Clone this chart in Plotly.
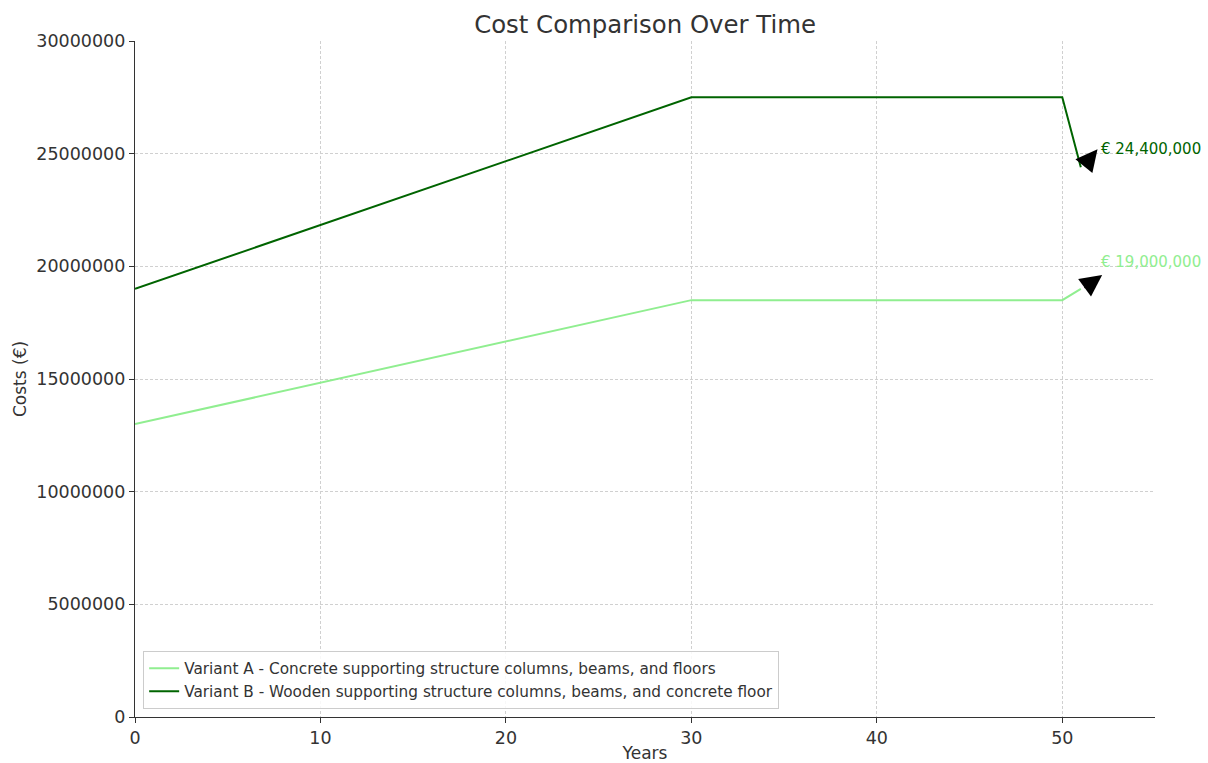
import plotly.graph_objects as go

years = [0, 30, 50, 51]
variant_a = [13000000, 18500000, 18500000, 19000000]
variant_b = [19000000, 27500000, 27500000, 24400000]
name_a = "Variant A - Concrete supporting structure columns, beams, and floors"
name_b = "Variant B - Wooden supporting structure columns, beams, and concrete floor"
label_a = "€ 19,000,000"
label_b = "€ 24,400,000"
color_a = "#90EE90"
color_b = "#006400"

x_ticks = [0, 10, 20, 30, 40, 50]
y_ticks = [0, 5000000, 10000000, 15000000, 20000000, 25000000, 30000000]

FONT = "DejaVu Sans"
TXT = "#333333"

fig = go.Figure()
fig.add_trace(go.Scatter(x=years, y=variant_a, mode="lines", name=name_a,
                         line=dict(color=color_a, width=2)))
fig.add_trace(go.Scatter(x=years, y=variant_b, mode="lines", name=name_b,
                         line=dict(color=color_b, width=2)))

# annotations: arrows and value labels
for val, lab, col, dy_txt, tip_dx, tip_dy in [
    (variant_b[-1], label_b, color_b, 800000, 0.9, 800000),
    (variant_a[-1], label_a, color_a, 1200000, 1.15, 620000),
]:
    x_end = years[-1]
    fig.add_annotation(x=x_end + tip_dx, y=val + tip_dy, ax=x_end + 0.12, ay=val,
                       xref="x", yref="y", axref="x", ayref="y",
                       text="", showarrow=True, arrowhead=2, arrowsize=2.9,
                       arrowwidth=1.5, arrowcolor="black", standoff=0, startstandoff=0)
    fig.add_annotation(x=x_end + 1.0, y=val + dy_txt, xref="x", yref="y",
                       text=lab, showarrow=False, xanchor="left", yanchor="middle",
                       font=dict(family=FONT, size=15, color=col))

fig.update_layout(
    width=1208, height=763,
    margin=dict(l=135, r=53, t=41, b=46),
    paper_bgcolor="white", plot_bgcolor="white",
    font=dict(family=FONT, color=TXT),
    title=dict(text="Cost Comparison Over Time", x=0.534, xanchor="center",
               y=1 - 24 / 763, yanchor="middle", yref="container",
               font=dict(family=FONT, size=24.4, color=TXT)),
    legend=dict(x=0.008, y=0.012, xanchor="left", yanchor="bottom",
                bgcolor="rgba(255,255,255,0.85)", bordercolor="#cccccc", borderwidth=1,
                tracegroupgap=0,
                font=dict(family=FONT, size=15.3, color=TXT)),
    showlegend=True,
)
fig.update_xaxes(range=[0, 55], tickvals=x_ticks, showgrid=True, gridcolor="#d0d0d0",
                 griddash="3px,2px", gridwidth=0.8, showline=True, linecolor="#333333",
                 linewidth=1.3, ticks="outside", ticklen=5, tickcolor="#333333",
                 zeroline=False, tickfont=dict(size=17.5, color=TXT), automargin=False,
                 title=dict(text="Years", font=dict(size=17, color=TXT), standoff=11))
fig.update_yaxes(range=[0, 30000000], tickvals=y_ticks, tickformat="d", showgrid=True,
                 gridcolor="#d0d0d0", griddash="3px,2px", gridwidth=0.8, showline=True,
                 linecolor="#333333", linewidth=1.3, ticks="outside", ticklen=5,
                 tickcolor="#333333", zeroline=False, tickfont=dict(size=17.5, color=TXT),
                 automargin=False,
                 title=dict(text="Costs (€)", font=dict(size=17, color=TXT), standoff=5))

fig.write_html("out.html")
